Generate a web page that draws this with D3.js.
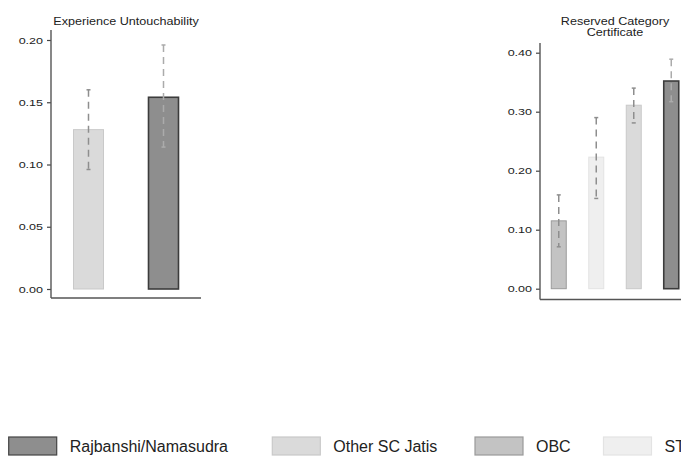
<!DOCTYPE html>
<html>
<head>
<meta charset="utf-8">
<script src="https://cdn.jsdelivr.net/npm/d3@7"></script>
<style>
  html, body { margin: 0; padding: 0; background: #fff; }
  svg { display: block; font-family: "Liberation Sans", Arial, Helvetica, sans-serif; }
</style>
</head>
<body>
<svg id="chart" width="681" height="456"></svg>
<script>
// Group labels and their fills
const groups = ["Rajbanshi/Namasudra", "Other SC Jatis", "OBC", "ST"];
const groupFill = ["#8e8e8e", "#dadada", "#c3c3c3", "#efefef"];
const groupStroke = ["#3c3c3c", "#c9c9c9", "#9a9a9a", "#e3e3e3"];

// Panel 1: Experience Untouchability
const untouchCats = ["Other SC Jatis", "Rajbanshi/Namasudra"];
const untouchMean = [0.128, 0.154];
const untouchLow = [0.096, 0.114];
const untouchHigh = [0.160, 0.196];
const untouchTicks = [0, 0.05, 0.10, 0.15, 0.20];

// Panel 2: Reserved Category Certificate
const certCats = ["OBC", "ST", "Other SC Jatis", "Rajbanshi/Namasudra"];
const certMean = [0.115, 0.223, 0.311, 0.352];
const certLow = [0.071, 0.153, 0.281, 0.317];
const certHigh = [0.159, 0.290, 0.340, 0.389];
const certTicks = [0, 0.10, 0.20, 0.30, 0.40];

const svg = d3.select("#chart");
svg.append("rect").attr("width", 681).attr("height", 456).attr("fill", "#fff");

const fillOf = d3.scaleOrdinal().domain(groups).range(groupFill);
const strokeOf = d3.scaleOrdinal().domain(groups).range(groupStroke);

// panel text is drawn slightly wide
const WIDE = 1.2;

function panel(cfg) {
  const g = svg.append("g");
  const x = d3.scaleBand().domain(cfg.cats).range([cfg.x0, cfg.x0 + 150])
    .paddingInner(0.6).paddingOuter(0.3);
  const y = d3.scaleLinear().domain([0, cfg.max]).range([cfg.zeroY, cfg.topY]);

  // title
  const t = g.append("text")
    .attr("transform", `translate(${cfg.x0 + 75},${cfg.titleY}) scale(${WIDE},1)`)
    .attr("text-anchor", "middle").attr("font-size", 10.5).attr("fill", "#222");
  cfg.title.forEach((line, i) => {
    t.append("tspan").attr("x", 0).attr("dy", i === 0 ? 0 : 11).text(line);
  });

  // bars
  const rows = cfg.cats.map((c, i) => ({ c, m: cfg.mean[i], lo: cfg.low[i], hi: cfg.high[i] }));
  g.selectAll("rect.bar").data(rows).join("rect")
    .attr("class", "bar")
    .attr("x", d => x(d.c)).attr("width", x.bandwidth())
    .attr("y", d => y(d.m)).attr("height", d => y(0) - y(d.m))
    .attr("fill", d => fillOf(d.c))
    .attr("stroke", d => strokeOf(d.c))
    .attr("stroke-width", d => d.c === "Rajbanshi/Namasudra" ? 1.6 : 1);

  // error bars
  const cx = d => x(d.c) + x.bandwidth() / 2;
  const eb = g.selectAll("g.err").data(rows).join("g").attr("class", "err")
    .attr("stroke", d => d.c === "Rajbanshi/Namasudra" ? "#ababab" : "#8e8e8e")
    .attr("stroke-width", 1.5);
  eb.append("line")
    .attr("x1", cx).attr("x2", cx)
    .attr("y1", d => y(d.hi)).attr("y2", d => y(d.lo))
    .attr("stroke-dasharray", "7,5");
  eb.append("line")
    .attr("x1", d => cx(d) - 2).attr("x2", d => cx(d) + 2)
    .attr("y1", d => y(d.hi)).attr("y2", d => y(d.hi));
  eb.append("line")
    .attr("x1", d => cx(d) - 2).attr("x2", d => cx(d) + 2)
    .attr("y1", d => y(d.lo)).attr("y2", d => y(d.lo));

  // y axis
  const ax = g.append("g").attr("transform", `translate(${cfg.x0},0)`)
    .call(d3.axisLeft(y).tickValues(cfg.ticks).tickFormat(d3.format(".2f"))
      .tickSize(4).tickPadding(3));
  ax.select(".domain").remove();
  ax.selectAll(".tick line").attr("stroke", "#444").attr("stroke-width", 1.2);
  ax.selectAll(".tick text").attr("font-size", 9.5).attr("fill", "#222")
    .attr("font-family", "'Liberation Sans', Arial, sans-serif")
    .attr("transform", "scale(1.32,1)")
    .attr("x", -8 / 1.32);

  // axis lines
  g.append("line").attr("x1", cfg.x0).attr("x2", cfg.x0)
    .attr("y1", cfg.axisTop).attr("y2", cfg.axisBottom)
    .attr("stroke", "#555").attr("stroke-width", 1.4);
  g.append("line").attr("x1", cfg.x0).attr("x2", cfg.x0 + 150)
    .attr("y1", cfg.axisBottom).attr("y2", cfg.axisBottom)
    .attr("stroke", "#555").attr("stroke-width", 1.4);
}

panel({
  x0: 51, cats: untouchCats, mean: untouchMean, low: untouchLow, high: untouchHigh,
  ticks: untouchTicks, max: 0.20, zeroY: 289, topY: 40,
  axisTop: 30, axisBottom: 298, title: ["Experience Untouchability"], titleY: 25
});

panel({
  x0: 540, cats: certCats, mean: certMean, low: certLow, high: certHigh,
  ticks: certTicks, max: 0.40, zeroY: 288.7, topY: 52.7,
  axisTop: 43, axisBottom: 299.5, title: ["Reserved Category", "Certificate"], titleY: 25
});

// legend
const legendX = [8.7, 272.3, 475, 603.5];
const lg = svg.append("g").selectAll("g").data(groups).join("g")
  .attr("transform", (d, i) => `translate(${legendX[i]},437)`);
lg.append("rect").attr("width", 48).attr("height", 18)
  .attr("fill", d => fillOf(d))
  .attr("stroke", d => d === "Rajbanshi/Namasudra" ? "#444" : strokeOf(d))
  .attr("stroke-width", 1.2);
lg.append("text").attr("x", 61).attr("y", 15)
  .attr("font-size", 16).attr("fill", "#222").text(d => d);
</script>
</body>
</html>
